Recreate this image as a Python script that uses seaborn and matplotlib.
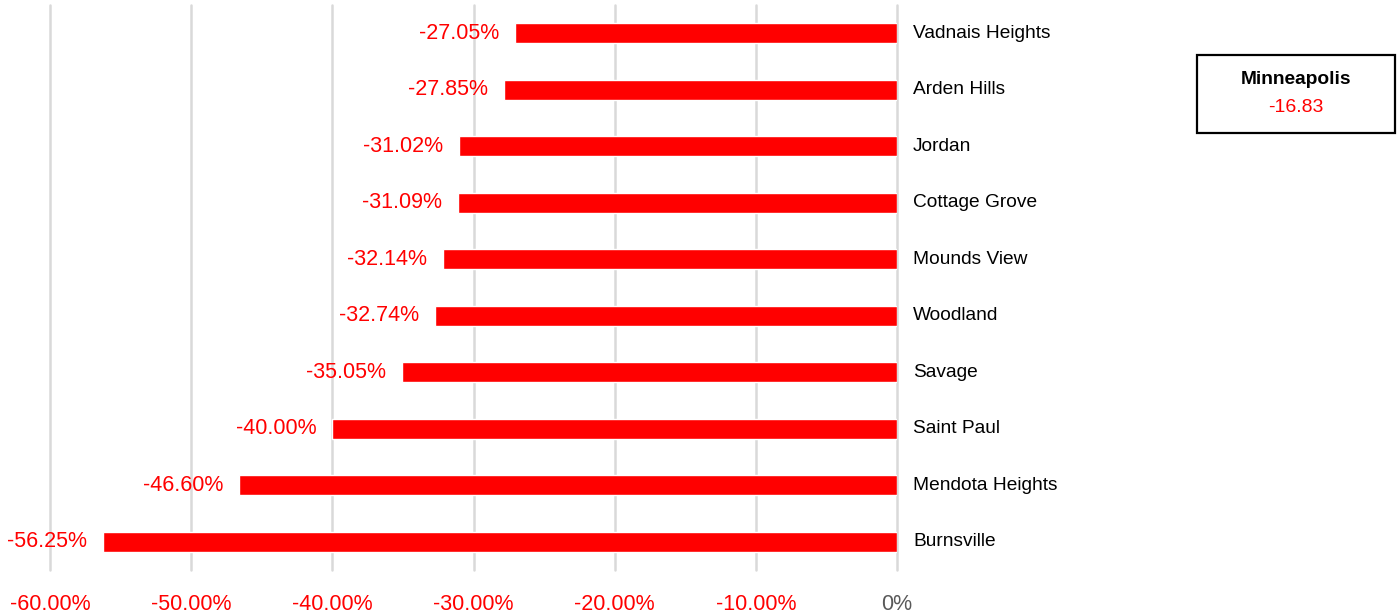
import matplotlib
matplotlib.use("Agg")
import matplotlib.pyplot as plt
import seaborn as sns
import pandas as pd
from matplotlib.patches import Rectangle

cities = ["Vadnais Heights", "Arden Hills", "Jordan", "Cottage Grove", "Mounds View",
          "Woodland", "Savage", "Saint Paul", "Mendota Heights", "Burnsville"]
values = [-27.05, -27.85, -31.02, -31.09, -32.14, -32.74, -35.05, -40.00, -46.60, -56.25]
xticks = [-60, -50, -40, -30, -20, -10, 0]
xtick_labels = ["-60.00%", "-50.00%", "-40.00%", "-30.00%", "-20.00%", "-10.00%", "0%"]
ref_city = "Minneapolis"
ref_value = "-16.83"

sns.set_theme(style="white")
plt.rcParams["font.family"] = ["Liberation Sans", "DejaVu Sans"]

df = pd.DataFrame({"city": cities, "value": values})

fig = plt.figure(figsize=(13.98, 6.15), dpi=100)
ax = fig.add_axes([50 / 1398, 1 - 570 / 615, (897 - 50) / 1398, (570 - 5) / 615])

sns.barplot(data=df, x="value", y="city", orient="h", color="#FF0000",
            saturation=1, width=0.36, ax=ax, order=cities)

ax.set_xlim(-60, 0)
ax.set_ylim(len(cities) - 0.5, -0.5)
ax.set_xticks(xticks)
ax.set_xticklabels(xtick_labels, fontsize=15.5)
for lbl, v in zip(ax.get_xticklabels(), xticks):
    lbl.set_color("#595959" if v == 0 else "#FF0000")
ax.tick_params(axis="x", length=0, pad=17)
ax.set_yticks([])
ax.set_xlabel("")
ax.set_ylabel("")
for s in ax.spines.values():
    s.set_visible(False)
ax.grid(axis="x", color="#D9D9D9", linewidth=1.8)
ax.grid(axis="y", visible=False)
ax.set_axisbelow(True)
for gl in ax.get_xgridlines():
    gl.set_clip_on(False)

off = 16 / 1398 * 60 / ((897 - 50) / 1398)  # ~16px in data units
for i, (c, v) in enumerate(zip(cities, values)):
    ax.text(v - off, i, f"{v:.2f}%", ha="right", va="center", color="#FF0000",
            fontsize=15.5, clip_on=False)
    ax.text(off, i, c, ha="left", va="center", color="#000000", fontsize=13.8,
            clip_on=False)

# Reference box
bx0, by0, bw, bh = 1197 / 1398, 1 - 133 / 615, (1395 - 1197) / 1398, (133 - 55) / 615
fig.patches.append(Rectangle((bx0, by0), bw, bh, transform=fig.transFigure,
                             fill=False, edgecolor="black", linewidth=1.6))
fig.text(bx0 + bw / 2, 1 - 79 / 615, ref_city, ha="center", va="center",
         fontsize=13.8, fontweight="bold", color="black")
fig.text(bx0 + bw / 2, 1 - 107 / 615, ref_value, ha="center", va="center",
         fontsize=14, color="#FF0000")

fig.savefig("out.png", dpi=100)
